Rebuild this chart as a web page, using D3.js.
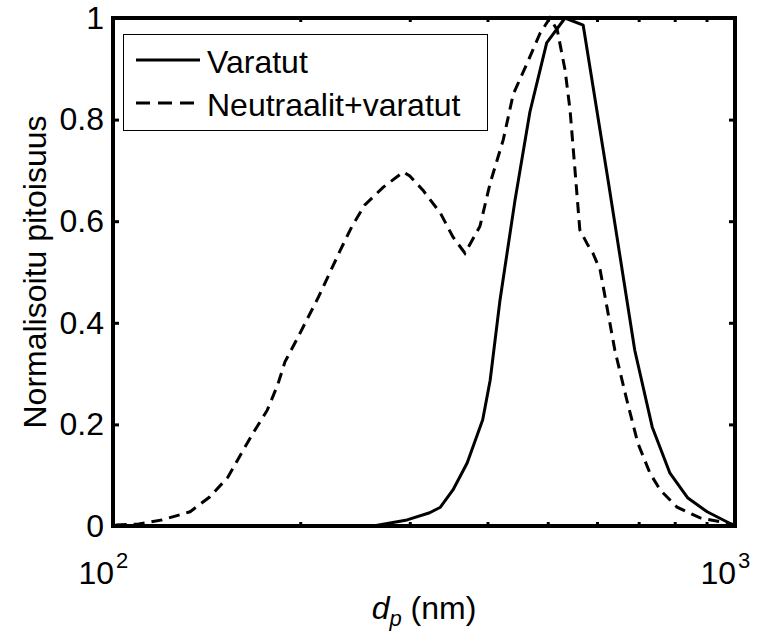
<!DOCTYPE html>
<html>
<head>
<meta charset="utf-8">
<script src="https://cdn.jsdelivr.net/npm/d3@7"></script>
<style>
  body { margin: 0; background: #fff; }
  svg text { font-family: 'Liberation Sans', Arial, sans-serif; fill: #000; }
</style>
</head>
<body>
<svg id="chart"></svg>
<script>
const width = 760;
const height = 634;
const plotLeft = 113, plotRight = 735, plotTop = 18, plotBottom = 526;
const fontSize = 32;

// Varatut (solid)
const varatutD = [100, 262, 297, 323, 336, 352, 371, 393, 404, 419, 443, 468, 498, 533, 570, 625, 690, 736, 786, 840, 902, 1000];
const varatutN = [0, 0, 0.012, 0.026, 0.037, 0.071, 0.124, 0.209, 0.287, 0.445, 0.642, 0.815, 0.951, 1.0, 0.986, 0.681, 0.346, 0.195, 0.104, 0.055, 0.028, 0];

// Neutraalit+varatut (dashed)
const neutrD = [101, 110, 120, 133, 143, 153, 161, 168, 177, 184, 189, 198, 214, 223, 232, 242, 254, 272, 293, 300,
  315, 336, 352, 368, 389, 404, 424, 440, 464, 486, 504, 518, 533, 543, 553, 563, 580, 591, 607, 641,
  670, 698, 730, 758, 807, 879, 971, 1000];
const neutrN = [0.002, 0.004, 0.012, 0.028, 0.057, 0.096, 0.144, 0.183, 0.228, 0.278, 0.323, 0.370, 0.451, 0.498, 0.543, 0.589, 0.632, 0.667, 0.697, 0.689,
  0.661, 0.616, 0.569, 0.537, 0.59, 0.675, 0.760, 0.85, 0.913, 0.970, 1.0, 0.976, 0.898, 0.819, 0.701, 0.583, 0.553, 0.537, 0.504, 0.346,
  0.248, 0.163, 0.104, 0.071, 0.037, 0.016, 0.006, 0.002];

const yTicks = [0, 0.2, 0.4, 0.6, 0.8, 1];
const xMajor = [100, 1000];
const xMajorExp = ['2', '3'];
const xMinor = [200, 300, 400, 500, 600, 700, 800, 900];
const legendNames = ['Varatut', 'Neutraalit+varatut'];

const svg = d3.select('#chart')
  .attr('width', width)
  .attr('height', height);

const x = d3.scaleLog().domain([100, 1000]).range([plotLeft, plotRight]);
const y = d3.scaleLinear().domain([0, 1]).range([plotBottom, plotTop]);

const line = d3.line()
  .x(d => x(d[0]))
  .y(d => y(d[1]));

// curves
svg.append('path')
  .datum(neutrD.map((d, i) => [d, neutrN[i]]))
  .attr('fill', 'none')
  .attr('stroke', '#000')
  .attr('stroke-width', 3)
  .attr('stroke-dasharray', '11,7')
  .attr('d', line);

svg.append('path')
  .datum(varatutD.map((d, i) => [d, varatutN[i]]))
  .attr('fill', 'none')
  .attr('stroke', '#000')
  .attr('stroke-width', 3)
  .attr('stroke-linejoin', 'round')
  .attr('d', line);

// axes
const yLeft = svg.append('g')
  .attr('transform', `translate(${plotLeft},0)`)
  .call(d3.axisLeft(y).tickValues(yTicks).tickSize(-6).tickPadding(9).tickFormat(d3.format('')));
const yRight = svg.append('g')
  .attr('transform', `translate(${plotRight},0)`)
  .call(d3.axisRight(y).tickValues(yTicks).tickSize(-6).tickFormat(''));
const xMinBottom = svg.append('g')
  .attr('transform', `translate(0,${plotBottom})`)
  .call(d3.axisBottom(x).tickValues(xMinor).tickSize(-4).tickFormat(''));
const xMinTop = svg.append('g')
  .attr('transform', `translate(0,${plotTop})`)
  .call(d3.axisTop(x).tickValues(xMinor).tickSize(-4).tickFormat(''));

[yLeft, yRight, xMinBottom, xMinTop].forEach(g => {
  g.select('.domain').remove();
  g.selectAll('line').attr('stroke', '#000').attr('stroke-width', 3);
});
yLeft.selectAll('text')
  .style('font-size', fontSize + 'px')
  .style('font-family', "'Liberation Sans', Arial, sans-serif");

// box
svg.append('rect')
  .attr('x', plotLeft)
  .attr('y', plotTop)
  .attr('width', plotRight - plotLeft)
  .attr('height', plotBottom - plotTop)
  .attr('fill', 'none')
  .attr('stroke', '#000')
  .attr('stroke-width', 4);

// x tick labels 10^n
const xLab = svg.append('g').selectAll('g')
  .data(xMajor)
  .enter().append('g');
xLab.append('text')
  .attr('x', d => x(d) + 1)
  .attr('y', 584)
  .attr('text-anchor', 'end')
  .style('font-size', fontSize + 'px')
  .text('10');
xLab.append('text')
  .attr('x', d => x(d) + 3)
  .attr('y', 568)
  .style('font-size', '22px')
  .text((d, i) => xMajorExp[i]);

// axis titles
const xTitle = svg.append('text')
  .attr('x', (plotLeft + plotRight) / 2)
  .attr('y', 619)
  .attr('text-anchor', 'middle')
  .style('font-size', fontSize + 'px');
xTitle.append('tspan').style('font-style', 'italic').text('d');
xTitle.append('tspan').style('font-style', 'italic').style('font-size', '22px').attr('dy', 7).text('p');
xTitle.append('tspan').attr('dy', -7).text(' (nm)');

svg.append('text')
  .attr('transform', `translate(46,${(plotTop + plotBottom) / 2}) rotate(-90)`)
  .attr('text-anchor', 'middle')
  .style('font-size', fontSize + 'px')
  .text('Normalisoitu pitoisuus');

// legend
const legend = svg.append('g');
legend.append('rect')
  .attr('x', 123.5)
  .attr('y', 34.5)
  .attr('width', 364)
  .attr('height', 96)
  .attr('fill', '#fff')
  .attr('stroke', '#000')
  .attr('stroke-width', 1);

const items = legend.selectAll('g.item')
  .data(legendNames)
  .enter().append('g')
  .attr('class', 'item')
  .attr('transform', (d, i) => `translate(0,${60 + i * 43})`);
items.append('line')
  .attr('x1', 136)
  .attr('x2', 200)
  .attr('stroke', '#000')
  .attr('stroke-width', 3)
  .attr('stroke-dasharray', (d, i) => i === 0 ? null : '14,8');
items.append('text')
  .attr('x', 207)
  .attr('y', 13)
  .style('font-size', fontSize + 'px')
  .text(d => d);
</script>
</body>
</html>
